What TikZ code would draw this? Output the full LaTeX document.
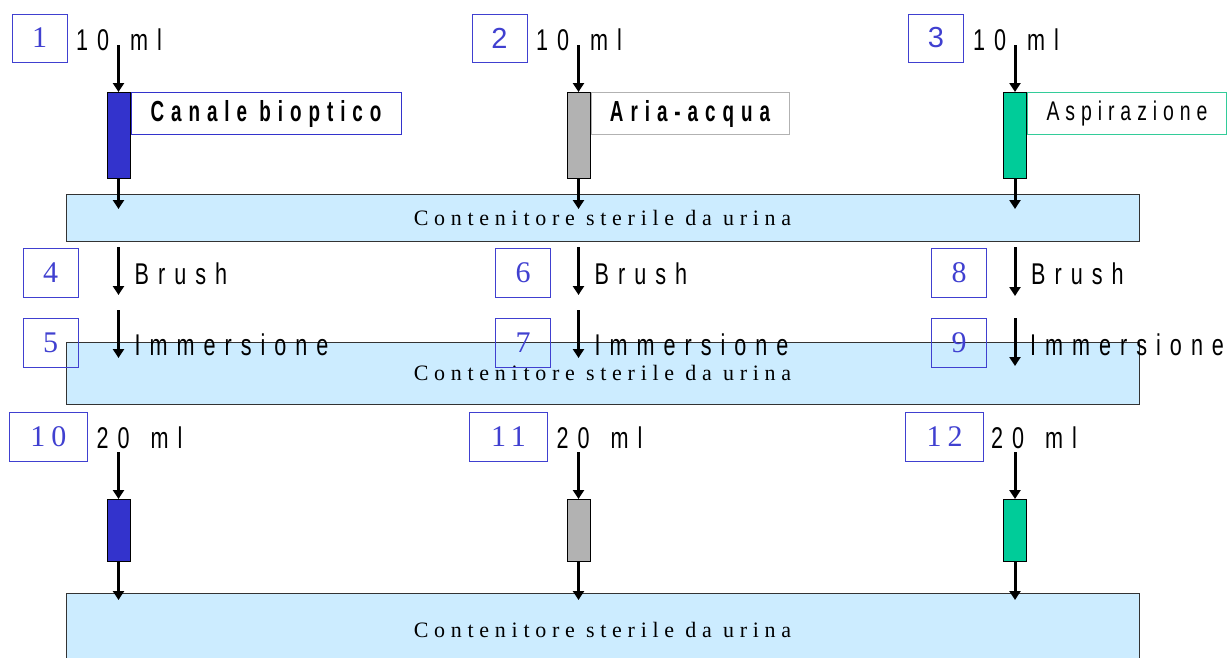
\documentclass[tikz,border=0pt]{standalone}
\usepackage{fontspec}
\usepackage{tikz}
\usetikzlibrary{arrows.meta}
\usepackage{xcolor}
\setmainfont{Liberation Serif}
\newfontfamily\plainsans{Liberation Sans}
\newfontfamily\notesans[FakeStretch=0.72,LetterSpace=30,WordSpace=1.4]{Liberation Sans}
\newfontfamily\tagsans[FakeStretch=0.65,LetterSpace=24]{Liberation Sans}
\newfontfamily\tagplain[FakeStretch=0.72,LetterSpace=22]{Liberation Sans}
\newfontfamily\vesselserif[LetterSpace=26]{Liberation Serif}
\newfontfamily\numserif[LetterSpace=20]{Liberation Serif}
\definecolor{numblue}{RGB}{64,64,208}
\definecolor{syblue}{RGB}{51,51,204}
\definecolor{sygray}{RGB}{178,178,178}
\definecolor{sygreen}{RGB}{0,204,153}
\definecolor{taggreen}{RGB}{51,204,153}
\definecolor{vesselblue}{RGB}{204,236,255}

\begin{document}
\begin{tikzpicture}[x=1pt, y=-1pt,
    numbox/.style={draw=numblue, text=numblue, line width=1pt, minimum width=55pt, minimum height=48pt, inner sep=0pt, font=\numserif\fontsize{30}{30}\selectfont},
    widebox/.style={numbox, minimum width=78pt, minimum height=49pt},
    syringe/.style={draw=black, line width=1pt, minimum width=23pt, inner sep=0pt, anchor=north},
    tagbox/.style={draw, line width=1pt, minimum height=42pt, inner sep=0pt, anchor=north west, font=\tagsans\bfseries\fontsize{29}{29}\selectfont},
    vessel/.style={draw=black!80, fill=vesselblue, line width=1pt, minimum width=1073pt, inner sep=0pt, font=\vesselserif\fontsize{22}{22}\selectfont},
    note/.style={anchor=base west, inner sep=0pt, font=\notesans\fontsize{30}{30}\selectfont},
    flow/.style={-{Triangle[width=11pt,length=9pt]}, line width=3pt}]
        \useasboundingbox (0,0) rectangle (1229,657);
        \clip (0,0) rectangle (1229,657);

        % Primo contenitore
        \node[vessel, minimum height=47pt] (cont1) at (602.5,217.5) {Contenitore sterile da urina};

        % Prima fila: 10 ml
        \node[numbox] (n1) at (39.5,38) {1};
        \node[numbox, font=\plainsans\fontsize{29}{29}\selectfont] (n2) at (499.5,38) {2};
        \node[numbox, font=\plainsans\fontsize{29}{29}\selectfont] (n3) at (936,38) {3};
        \node[note] (v1) at (76,50) {10 ml};
        \node[note] (v2) at (536,50) {10 ml};
        \node[note] (v3) at (973,50) {10 ml};
        \coordinate (in1) at (118.5,45);
        \coordinate (in2) at (578.5,45);
        \coordinate (in3) at (1015,45);

        \node[syringe, fill=syblue, minimum height=86pt] (s1) at (118.5,92) {};
        \node[syringe, fill=sygray, minimum height=86pt] (s2) at (578.5,92) {};
        \node[syringe, fill=sygreen, minimum height=86pt] (s3) at (1015,92) {};
        \node[tagbox, draw=syblue, minimum width=270pt] (t1) at (s1.north east) {Canale bioptico};
        \node[tagbox, draw=sygray, minimum width=198pt] (t2) at (s2.north east) {Aria-acqua};
        \node[tagbox, draw=taggreen, minimum width=199pt, font=\tagplain\fontsize{27}{27}\selectfont] (t3) at (s3.north east) {Aspirazione};

        \coordinate (out1) at (118.5,209);
        \coordinate (out2) at (578.5,209);
        \coordinate (out3) at (1015,209);
        \draw[flow] (in1) -- (s1.north);
        \draw[flow] (in2) -- (s2.north);
        \draw[flow] (in3) -- (s3.north);
        \draw[flow] (s1.south) -- (out1);
        \draw[flow] (s2.south) -- (out2);
        \draw[flow] (s3.south) -- (out3);

        % Brush
        \node[numbox, minimum height=49pt] (n4) at (50.5,272.5) {4};
        \node[numbox, minimum height=49pt] (n6) at (523,272.5) {6};
        \node[numbox, minimum height=49pt] (n8) at (959,272.5) {8};
        \coordinate (b1) at (118.5,247);
        \coordinate (b1e) at (118.5,295);
        \coordinate (b2) at (578.5,247);
        \coordinate (b2e) at (578.5,295);
        \coordinate (b3) at (1015,247);
        \coordinate (b3e) at (1015,296);
        \draw[flow] (b1) -- (b1e);
        \draw[flow] (b2) -- (b2e);
        \draw[flow] (b3) -- (b3e);
        \node[note] (br1) at (134.5,284) {Brush};
        \node[note] (br2) at (594.5,284) {Brush};
        \node[note] (br3) at (1031,284) {Brush};

        % Secondo contenitore
        \node[vessel, minimum height=62pt] (cont2) at (602.5,373) {Contenitore sterile da urina};

        % Immersione
        \node[numbox, minimum height=49pt] (n5) at (50.5,343) {5};
        \node[numbox, minimum height=49pt] (n7) at (523,343) {7};
        \node[numbox, minimum height=49pt] (n9) at (959,343) {9};
        \coordinate (d1) at (118.5,310);
        \coordinate (d1e) at (118.5,358);
        \coordinate (d2) at (578.5,310);
        \coordinate (d2e) at (578.5,358);
        \coordinate (d3) at (1015,318);
        \coordinate (d3e) at (1015,366);
        \draw[flow] (d1) -- (d1e);
        \draw[flow] (d2) -- (d2e);
        \draw[flow] (d3) -- (d3e);
        \node[note] (im1) at (134.5,355) {Immersione};
        \node[note] (im2) at (594.5,355) {Immersione};
        \node[note] (im3) at (1030,355) {Immersione};

        % Terzo contenitore
        \node[vessel, minimum height=74pt] (cont3) at (602.5,630) {Contenitore sterile da urina};

        % Ultima fila: 20 ml
        \node[widebox] (n10) at (48.5,436.5) {10};
        \node[widebox] (n11) at (508.5,436.5) {11};
        \node[widebox] (n12) at (944.5,436.5) {12};
        \node[note] (w1) at (96.5,448) {20 ml};
        \node[note] (w2) at (556.5,448) {20 ml};
        \node[note] (w3) at (991,448) {20 ml};
        \coordinate (p1) at (118.5,452);
        \coordinate (p2) at (578.5,452);
        \coordinate (p3) at (1015,452);

        \node[syringe, fill=syblue, minimum height=62pt] (r1) at (118.5,499) {};
        \node[syringe, fill=sygray, minimum height=62pt] (r2) at (578.5,499) {};
        \node[syringe, fill=sygreen, minimum height=62pt] (r3) at (1015,499) {};

        \coordinate (q1) at (118.5,600);
        \coordinate (q2) at (578.5,600);
        \coordinate (q3) at (1015,600);
        \draw[flow] (p1) -- (r1.north);
        \draw[flow] (p2) -- (r2.north);
        \draw[flow] (p3) -- (r3.north);
        \draw[flow] (r1.south) -- (q1);
        \draw[flow] (r2.south) -- (q2);
        \draw[flow] (r3.south) -- (q3);
    \end{tikzpicture}
\end{document}
